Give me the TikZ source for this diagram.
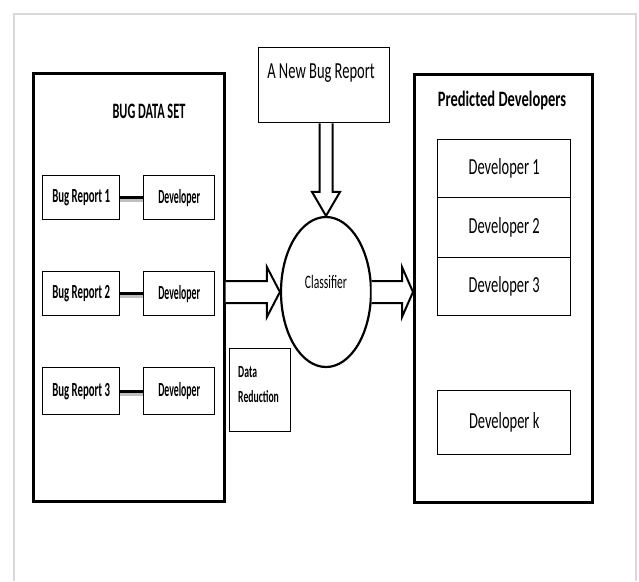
\documentclass[tikz,border=0pt]{standalone}
\usepackage{fontspec}
\setmainfont{Carlito}
\usetikzlibrary{calc,shapes.geometric}
\newcommand{\sqz}[2]{\scalebox{#1}[1]{#2}}
\newcommand{\fsz}[1]{\fontsize{#1}{#1}\selectfont}
\begin{document}
\begin{tikzpicture}[x=1pt,y=-1pt,
  bigbox/.style={draw,line width=2.6pt,inner sep=0pt,anchor=north west},
  smallbox/.style={draw,line width=1.4pt,inner sep=0pt,anchor=north west},
  txt/.style={inner sep=0pt},
  hollow/.style={draw,fill=white,line width=2pt,line join=miter},
  conn/.style={line width=3.4pt},
  shadow/.style={line width=3pt,black!25}]
\useasboundingbox (0,0) rectangle (639,581);
% outer frame
\draw[black!15,line width=2pt] (14,581) -- (14,14) -- (636,14) -- (636,581);

% left data set box
\node[bigbox,minimum width=191,minimum height=428] (dataset) at (32,72) {};
\node[txt] (dstitle) at (149,111) {\bfseries\fsz{22}\sqz{0.56}{BUG DATA SET}};

% bug report rows
\node[smallbox,minimum width=77,minimum height=44] (br1) at (42,175) {\bfseries\fsz{20}\sqz{0.54}{Bug Report 1}};
\node[smallbox,minimum width=71,minimum height=44] (dv1) at (143,175) {\bfseries\fsz{20}\sqz{0.49}{Developer}};
\node[smallbox,minimum width=77,minimum height=44] (br2) at (42,271) {\bfseries\fsz{20}\sqz{0.54}{Bug Report 2}};
\node[smallbox,minimum width=71,minimum height=44] (dv2) at (143,271) {\bfseries\fsz{20}\sqz{0.49}{Developer}};
\node[smallbox,minimum width=77,minimum height=47] (br3) at (42,367) {\bfseries\fsz{20}\sqz{0.54}{Bug Report 3}};
\node[smallbox,minimum width=71,minimum height=47] (dv3) at (143,367) {\bfseries\fsz{20}\sqz{0.49}{Developer}};
\foreach \a/\b in {br1/dv1,br2/dv2,br3/dv3}{
  \draw[shadow] ([yshift=-3pt]\a.east) -- ([yshift=-3pt]\b.west);
  \draw[conn] (\a.east) -- (\b.west);
}

% new bug report
\node[smallbox,minimum width=131,minimum height=75] (newbug) at (258,47) {};
\node[txt] (newbugtxt) at (321,73) {\fsz{23}\sqz{0.63}{A New Bug Report}};

% classifier
\node[draw,ellipse,line width=2.2pt,minimum width=90,minimum height=150,inner sep=0pt] (clf) at (326,292) {};
\node[txt] (clftxt) at (326,282) {\fsz{19}\sqz{0.61}{Classifier}};

% data reduction
\node[smallbox,minimum width=61,minimum height=83] (dred) at (229,348) {};
\node[txt,anchor=west] (dredA) at (238,372) {\bfseries\fsz{17}\sqz{0.57}{Data}};
\node[txt,anchor=west] (dredB) at (238,397) {\bfseries\fsz{17}\sqz{0.57}{Reduction}};

% predicted developers
\node[bigbox,minimum width=178,minimum height=428] (pred) at (413,73) {};
\node[txt] (predtitle) at (502,101) {\bfseries\fsz{22}\sqz{0.66}{Predicted Developers}};
\node[smallbox,minimum width=133,minimum height=58] (d1) at (437,139) {\fsz{23}\sqz{0.63}{Developer 1}};
\node[smallbox,minimum width=133,minimum height=60] (d2) at (437,197) {\fsz{23}\sqz{0.63}{Developer 2}};
\node[smallbox,minimum width=133,minimum height=58] (d3) at (437,257) {\fsz{23}\sqz{0.63}{Developer 3}};
\node[smallbox,minimum width=133,minimum height=64] (dk) at (437,390) {\fsz{23}\sqz{0.63}{Developer k}};

% hollow arrows
\coordinate (dtip) at (clf.north);
\coordinate (dtop) at (newbug.south -| dtip);
\draw[hollow] ($(dtop)+(-6.5,0)$) -- ($(dtip)+(-6.5,-24)$) -- ($(dtip)+(-14,-24)$) -- (dtip)
  -- ($(dtip)+(14,-24)$) -- ($(dtip)+(6.5,-24)$) -- ($(dtop)+(6.5,0)$);

\coordinate (ltip) at (clf.west);
\coordinate (lstart) at (dataset.east |- ltip);
\draw[hollow] ($(lstart)+(0,-11)$) -- ($(ltip)+(-13,-11)$) -- ($(ltip)+(-13,-25)$) -- (ltip)
  -- ($(ltip)+(-13,25)$) -- ($(ltip)+(-13,11)$) -- ($(lstart)+(0,11)$);

\coordinate (rtip) at (pred.west |- clf.east);
\coordinate (rstart) at (clf.east);
\draw[hollow] ($(rstart)+(-0.5,-11)$) -- ($(rtip)+(-11,-11)$) -- ($(rtip)+(-11,-25)$) -- (rtip)
  -- ($(rtip)+(-11,25)$) -- ($(rtip)+(-11,11)$) -- ($(rstart)+(-0.5,11)$);
\end{tikzpicture}
\end{document}
